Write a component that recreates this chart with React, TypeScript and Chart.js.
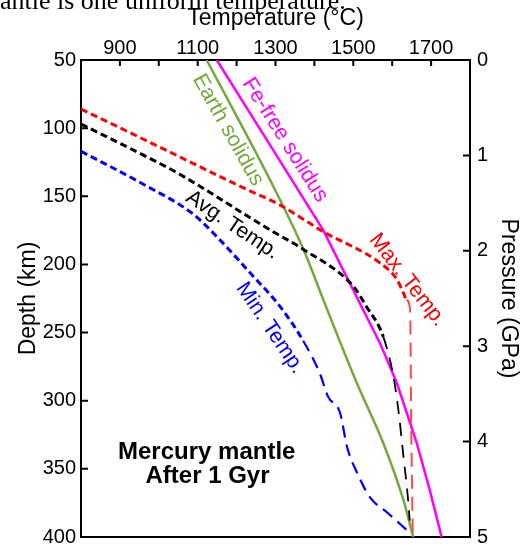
import React, { useEffect, useRef } from 'react';
import { Chart, registerables } from 'chart.js';

Chart.register(...registerables);

// ---- Data (Temperature °C, Depth km) ----
const tempTickLabels = [900, 1100, 1300, 1500, 1700];
const depthTicks = [50, 100, 150, 200, 250, 300, 350, 400];
const pressureTicks = [0, 1, 2, 3, 4, 5];

const earthSolidusT = [1123, 1286, 1372, 1423, 1509, 1577, 1629, 1654];
const earthSolidusD = [50, 138, 189, 226, 287, 331, 373, 400];

const feFreeSolidusT = [1149, 1272, 1423, 1509, 1569, 1612, 1663, 1697, 1727];
const feFreeSolidusD = [50, 106, 175, 224, 258, 287, 331, 366, 400];

const maxTempT = [800, 1003, 1226, 1309, 1423, 1569, 1612, 1629, 1637, 1646, 1649, 1653];
const maxTempD = [86, 114, 145, 156, 176, 199, 211, 221, 226, 233, 320, 400];

const avgTempT = [800, 1003, 1055, 1242, 1294, 1372, 1500, 1534, 1577, 1603, 1616, 1629, 1641, 1645];
const avgTempD = [97, 126, 134, 167, 176, 189, 216, 231, 253, 282, 307, 341, 373, 388];

const minTempT = [800, 959, 1088, 1157, 1234, 1312, 1371, 1414, 1435, 1466, 1484, 1510, 1543, 1587, 1638];
const minTempD = [117, 141, 163, 182, 206, 231, 256, 280, 297, 309, 334, 353, 371, 382, 395];

const pts = (t: number[], d: number[]) => t.map((v, i) => ({ x: v, y: d[i] }));

const GREEN = '#73a93a';
const MAGENTA = '#ff00ff';
const RED = '#ff0000';
const BLUE = '#0000ff';
const SANS = '"Liberation Sans", Arial, Helvetica, sans-serif';

const annotations = [
  { text: 'Earth solidus', x: 228, y: 130, angle: 60.8, color: GREEN },
  { text: 'Fe-free solidus', x: 285, y: 140, angle: 57.7, color: MAGENTA },
  { text: 'Avg. Temp.', x: 232.5, y: 225, angle: 33.7, color: '#000' },
  { text: 'Max. Temp.', x: 407.5, y: 280, angle: 52, color: RED },
  { text: 'Min. Temp.', x: 270, y: 328, angle: 56, color: BLUE },
];

const inwardTicks = {
  id: 'inwardTicks',
  afterDraw(chart: any) {
    const { ctx, chartArea, scales } = chart;
    const { left, right, top } = chartArea;
    ctx.save();
    ctx.strokeStyle = '#000';
    ctx.lineWidth = 2;
    ctx.beginPath();
    scales.x.ticks.forEach((t: any) => {
      const px = scales.x.getPixelForValue(t.value);
      if (px > left + 2 && px < right - 2) {
        ctx.moveTo(px, top);
        ctx.lineTo(px, top + 6);
      }
    });
    scales.y.ticks.forEach((t: any) => {
      const py = scales.y.getPixelForValue(t.value);
      ctx.moveTo(left, py);
      ctx.lineTo(left + 7, py);
    });
    scales.y2.ticks.forEach((t: any) => {
      const py = scales.y2.getPixelForValue(t.value);
      ctx.moveTo(right, py);
      ctx.lineTo(right - 7, py);
    });
    ctx.stroke();

    // rotated curve labels
    ctx.font = `21.5px ${SANS}`;
    ctx.textAlign = 'center';
    ctx.textBaseline = 'middle';
    annotations.forEach((a) => {
      ctx.save();
      ctx.translate(a.x, a.y);
      ctx.rotate((a.angle * Math.PI) / 180);
      ctx.fillStyle = a.color;
      ctx.fillText(a.text, 0, 0);
      ctx.restore();
    });

    ctx.fillStyle = '#000';
    ctx.font = `bold 24px ${SANS}`;
    ctx.fillText('Mercury mantle', 206.7, 452);
    ctx.fillText('After 1 Gyr', 207.5, 476);

    // clipped caption text at the very top
    ctx.textAlign = 'left';
    ctx.textBaseline = 'alphabetic';
    ctx.font = '26px "Liberation Serif", "Times New Roman", serif';
    ctx.fillText('antle is one uniform temperature.', 0, 9);
    ctx.restore();
  },
};

function dashSeg(limit: number, shortDash: number[], longDash: number[], w1: number, w2: number, c1: string, c2: string) {
  return {
    borderDash: (ctx: any) => (ctx.p0.parsed.y >= limit ? longDash : shortDash),
    borderWidth: (ctx: any) => (ctx.p0.parsed.y >= limit ? w2 : w1),
    borderColor: (ctx: any) => (ctx.p0.parsed.y >= limit ? c2 : c1),
  };
}

export default function App() {
  const canvasRef = useRef<HTMLCanvasElement | null>(null);

  useEffect(() => {
    if (!canvasRef.current) return;
    const tickFont = { family: SANS, size: 20, lineHeight: 0.1 };
    const titleFont = { family: SANS, size: 23, lineHeight: 1.2 };
    const chart = new Chart(canvasRef.current, {
      type: 'line',
      data: {
        datasets: [
          {
            label: 'Min. Temp.',
            data: pts(minTempT, minTempD),
            borderColor: BLUE,
            borderWidth: 3,
            borderDash: [7, 4],
            cubicInterpolationMode: 'monotone',
            segment: dashSeg(240, [7, 4], [12, 7], 3, 2.2, BLUE, BLUE),
          },
          {
            label: 'Avg. Temp.',
            data: pts(avgTempT, avgTempD),
            borderColor: '#000',
            borderWidth: 3,
            borderDash: [7, 4],
            cubicInterpolationMode: 'monotone',
            segment: dashSeg(240, [7, 4], [13, 9], 3, 1.8, '#000', '#000'),
          },
          {
            label: 'Max. Temp.',
            data: pts(maxTempT, maxTempD),
            borderColor: RED,
            borderWidth: 3,
            borderDash: [7, 4],
            cubicInterpolationMode: 'monotone',
            segment: dashSeg(226, [7, 4], [14, 8], 3, 2, RED, '#ff4a4a'),
          },
          {
            label: 'Earth solidus',
            data: pts(earthSolidusT, earthSolidusD),
            borderColor: GREEN,
            borderWidth: 2.5,
            cubicInterpolationMode: 'monotone',
          },
          {
            label: 'Fe-free solidus',
            data: pts(feFreeSolidusT, feFreeSolidusD),
            borderColor: MAGENTA,
            borderWidth: 2.5,
          },
        ],
      },
      options: {
        animation: false,
        responsive: true,
        maintainAspectRatio: false,
        layout: { padding: 0 },
        elements: { point: { radius: 0, hoverRadius: 0 }, line: { tension: 0 } },
        plugins: { legend: { display: false }, tooltip: { enabled: false } },
        events: [],
        scales: {
          x: {
            type: 'linear',
            position: 'top',
            min: 800,
            max: 1800,
            ticks: {
              stepSize: 100,
              autoSkip: false,
              maxRotation: 0,
              padding: 0,
              color: '#000',
              font: { family: SANS, size: 20, lineHeight: 1.2 },
              callback: (v: any) => (tempTickLabels.includes(Number(v)) ? String(v) : ''),
            },
            grid: { display: false, drawTicks: false, drawOnChartArea: false },
            border: { display: true, color: '#000', width: 2 },
            title: { display: true, text: 'Temperature (°C)', color: '#000', font: titleFont, padding: { top: 4.5, bottom: 0 } },
            afterFit: (s: any) => { s.height = 60; },
          },
          x2: {
            type: 'linear',
            position: 'bottom',
            min: 800,
            max: 1800,
            ticks: { display: false },
            grid: { display: false, drawTicks: false, drawOnChartArea: false },
            border: { display: true, color: '#000', width: 2 },
            afterFit: (s: any) => { s.height = 9; },
          },
          y: {
            type: 'linear',
            position: 'left',
            reverse: true,
            min: depthTicks[0],
            max: depthTicks[depthTicks.length - 1],
            afterBuildTicks: (s: any) => { s.ticks = depthTicks.map((v) => ({ value: v })); },
            ticks: { padding: 5, color: '#000', font: tickFont, autoSkip: false },
            grid: { display: false, drawTicks: false, drawOnChartArea: false },
            border: { display: true, color: '#000', width: 2 },
            title: { display: true, text: 'Depth (km)', color: '#000', font: titleFont, padding: { top: 15, bottom: 0 } },
            afterFit: (s: any) => { s.width = 81; },
          },
          y2: {
            type: 'linear',
            position: 'right',
            reverse: true,
            min: pressureTicks[0],
            max: pressureTicks[pressureTicks.length - 1],
            afterBuildTicks: (s: any) => { s.ticks = pressureTicks.map((v) => ({ value: v })); },
            ticks: { padding: 7, color: '#000', font: tickFont, autoSkip: false },
            grid: { display: false, drawTicks: false, drawOnChartArea: false },
            border: { display: true, color: '#000', width: 2 },
            title: { display: true, text: 'Pressure (GPa)', color: '#000', font: { family: SANS, size: 23, lineHeight: 1.1 }, padding: { top: 0, bottom: 0 } },
            afterFit: (s: any) => { s.width = 51; },
          },
        },
      } as any,
      plugins: [inwardTicks],
    });
    return () => chart.destroy();
  }, []);

  return (
    <div style={{ position: 'absolute', left: 0, top: 0, width: 521, height: 546, background: '#fff' }}>
      <canvas ref={canvasRef} />
    </div>
  );
}
